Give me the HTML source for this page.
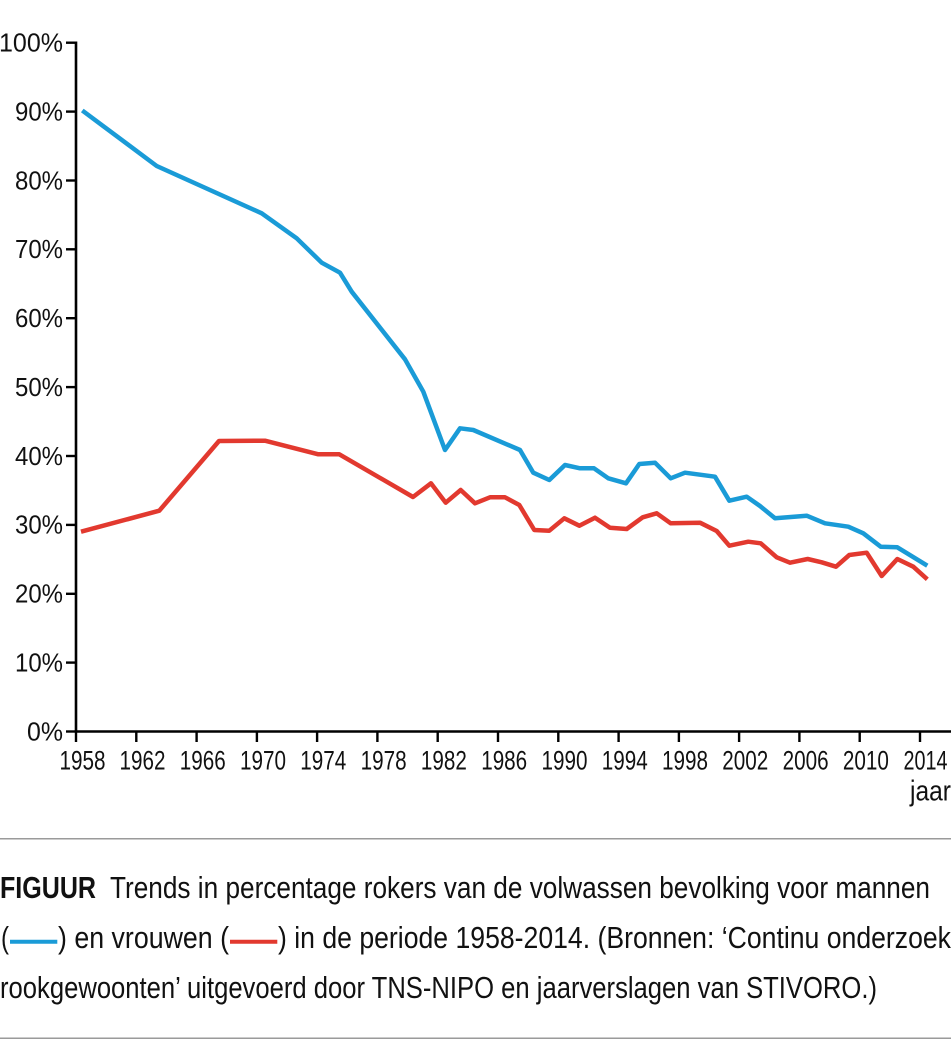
<!DOCTYPE html>
<html>
<head>
<meta charset="utf-8">
<style>
  html, body { margin: 0; padding: 0; background: #ffffff; }
  body { width: 951px; height: 1050px; overflow: hidden; }
  svg { display: block; }
  text { font-family: "Liberation Sans", "DejaVu Sans", sans-serif; fill: #111; }
</style>
</head>
<body>
<svg width="951" height="1050" viewBox="0 0 951 1050" xmlns="http://www.w3.org/2000/svg">
  <rect x="0" y="0" width="951" height="1050" fill="#ffffff"/>

  <!-- Axes -->
  <line x1="76" y1="41.5" x2="76" y2="732.5" stroke="#000" stroke-width="2.6"/>
  <line x1="74.7" y1="731.5" x2="951" y2="731.5" stroke="#000" stroke-width="2.6"/>

  <!-- Y ticks -->
  <g stroke="#000" stroke-width="2.4">
    <line x1="66" y1="42.7" x2="76" y2="42.7"/>
    <line x1="66" y1="111.6" x2="76" y2="111.6"/>
    <line x1="66" y1="180.5" x2="76" y2="180.5"/>
    <line x1="66" y1="249.3" x2="76" y2="249.3"/>
    <line x1="66" y1="318.2" x2="76" y2="318.2"/>
    <line x1="66" y1="387.1" x2="76" y2="387.1"/>
    <line x1="66" y1="456.0" x2="76" y2="456.0"/>
    <line x1="66" y1="524.9" x2="76" y2="524.9"/>
    <line x1="66" y1="593.8" x2="76" y2="593.8"/>
    <line x1="66" y1="662.6" x2="76" y2="662.6"/>
    <line x1="66" y1="731.5" x2="76" y2="731.5"/>
  </g>

  <!-- Y labels -->
  <g font-size="26" text-anchor="end">
    <text x="63" y="51.5" textLength="64" lengthAdjust="spacingAndGlyphs">100%</text>
    <text x="63" y="120.4" textLength="48" lengthAdjust="spacingAndGlyphs">90%</text>
    <text x="63" y="189.3" textLength="48" lengthAdjust="spacingAndGlyphs">80%</text>
    <text x="63" y="258.1" textLength="48" lengthAdjust="spacingAndGlyphs">70%</text>
    <text x="63" y="327.0" textLength="48" lengthAdjust="spacingAndGlyphs">60%</text>
    <text x="63" y="395.9" textLength="48" lengthAdjust="spacingAndGlyphs">50%</text>
    <text x="63" y="464.8" textLength="48" lengthAdjust="spacingAndGlyphs">40%</text>
    <text x="63" y="533.7" textLength="48" lengthAdjust="spacingAndGlyphs">30%</text>
    <text x="63" y="602.6" textLength="48" lengthAdjust="spacingAndGlyphs">20%</text>
    <text x="63" y="671.4" textLength="48" lengthAdjust="spacingAndGlyphs">10%</text>
    <text x="63" y="740.3" textLength="36" lengthAdjust="spacingAndGlyphs">0%</text>
  </g>

  <!-- X ticks -->
  <g stroke="#000" stroke-width="2.4">
    <line x1="76" y1="731.5" x2="76" y2="742"/>
    <line x1="136.3" y1="731.5" x2="136.3" y2="742"/>
    <line x1="196.6" y1="731.5" x2="196.6" y2="742"/>
    <line x1="256.9" y1="731.5" x2="256.9" y2="742"/>
    <line x1="317.1" y1="731.5" x2="317.1" y2="742"/>
    <line x1="377.4" y1="731.5" x2="377.4" y2="742"/>
    <line x1="437.7" y1="731.5" x2="437.7" y2="742"/>
    <line x1="498" y1="731.5" x2="498" y2="742"/>
    <line x1="558.3" y1="731.5" x2="558.3" y2="742"/>
    <line x1="618.6" y1="731.5" x2="618.6" y2="742"/>
    <line x1="678.9" y1="731.5" x2="678.9" y2="742"/>
    <line x1="739.1" y1="731.5" x2="739.1" y2="742"/>
    <line x1="799.4" y1="731.5" x2="799.4" y2="742"/>
    <line x1="859.7" y1="731.5" x2="859.7" y2="742"/>
    <line x1="920" y1="731.5" x2="920" y2="742"/>
  </g>

  <!-- X labels -->
  <g font-size="27" text-anchor="middle">
    <text x="82.5" y="769.5" textLength="46" lengthAdjust="spacingAndGlyphs">1958</text>
    <text x="142.5" y="769.5" textLength="46" lengthAdjust="spacingAndGlyphs">1962</text>
    <text x="202.8" y="769.5" textLength="46" lengthAdjust="spacingAndGlyphs">1966</text>
    <text x="263" y="769.5" textLength="46" lengthAdjust="spacingAndGlyphs">1970</text>
    <text x="323.3" y="769.5" textLength="46" lengthAdjust="spacingAndGlyphs">1974</text>
    <text x="383.6" y="769.5" textLength="46" lengthAdjust="spacingAndGlyphs">1978</text>
    <text x="443.9" y="769.5" textLength="46" lengthAdjust="spacingAndGlyphs">1982</text>
    <text x="504.2" y="769.5" textLength="46" lengthAdjust="spacingAndGlyphs">1986</text>
    <text x="564.5" y="769.5" textLength="46" lengthAdjust="spacingAndGlyphs">1990</text>
    <text x="624.8" y="769.5" textLength="46" lengthAdjust="spacingAndGlyphs">1994</text>
    <text x="685" y="769.5" textLength="46" lengthAdjust="spacingAndGlyphs">1998</text>
    <text x="745.3" y="769.5" textLength="46" lengthAdjust="spacingAndGlyphs">2002</text>
    <text x="805.6" y="769.5" textLength="46" lengthAdjust="spacingAndGlyphs">2006</text>
    <text x="865.9" y="769.5" textLength="46" lengthAdjust="spacingAndGlyphs">2010</text>
    <text x="925.5" y="769.5" textLength="44" lengthAdjust="spacingAndGlyphs">2014</text>
  </g>
  <text x="910" y="800.5" font-size="29" textLength="41" lengthAdjust="spacingAndGlyphs">jaar</text>

  <!-- Blue series (mannen) -->
  <polyline fill="none" stroke="#1a9bd7" stroke-width="4.5" stroke-linejoin="round" stroke-linecap="butt"
    points="82.3,110.5 156.7,166 261.7,213.3 296.7,238.3 321.7,262.7 340,272.7 351.7,291.7 405,359.3 423.3,391.7 445,450 460,428.3 473.3,430 520,450 533.3,472.7 549.3,480 565,465 580,468.3 594,468.3 608.3,478.3 626,483.3 639.3,464 655,462.7 670.7,478.3 685,472.7 715,476.7 729.3,500.7 746.7,496.7 760,506 775,518.3 806.7,515.7 825,523.3 848.3,526.7 863.3,533.3 880.7,546.7 897.3,547.3 927.3,565.7"/>

  <!-- Red series (vrouwen) -->
  <polyline fill="none" stroke="#e2392f" stroke-width="4.5" stroke-linejoin="round" stroke-linecap="butt"
    points="81,531.7 159.3,510.7 219,441 265,440.7 318.3,454.3 339.3,454.3 413,497 431,483.3 445.7,502.7 460.7,490 475,503.3 490,497.3 505,497.3 519.3,505 534.3,530 549.3,530.7 564.3,518.3 579.3,525.7 595,517.7 610,527.7 626.7,529 642.7,517.3 656.7,513.3 670.7,523.3 700,522.7 716.7,531 729.3,545.7 748.3,541.7 760.7,543.3 776.7,557.3 790,562.7 807.7,559 821.7,562.3 836,566.7 849.3,555 866.7,552.7 881.7,576 897.3,559 913.3,566.7 927.3,579.3"/>

  <!-- Separators -->
  <line x1="0" y1="838.7" x2="951" y2="838.7" stroke="#9a9a9a" stroke-width="1.5"/>
  <line x1="0" y1="1038.3" x2="951" y2="1038.3" stroke="#9a9a9a" stroke-width="1.5"/>

  <!-- Caption -->
  <g font-size="31">
    <text x="0" y="898" font-weight="bold" textLength="96" lengthAdjust="spacingAndGlyphs">FIGUUR</text>
    <text x="110" y="898" textLength="820" lengthAdjust="spacingAndGlyphs">Trends in percentage rokers van de volwassen bevolking voor mannen</text>

    <text x="1" y="948" textLength="8" lengthAdjust="spacingAndGlyphs">(</text>
    <line x1="10" y1="941.7" x2="57.3" y2="941.7" stroke="#1a9bd7" stroke-width="4"/>
    <text x="58" y="948" textLength="171" lengthAdjust="spacingAndGlyphs">) en vrouwen (</text>
    <line x1="230" y1="941.7" x2="277.3" y2="941.7" stroke="#e2392f" stroke-width="4"/>
    <text x="278" y="948" textLength="673" lengthAdjust="spacingAndGlyphs">) in de periode 1958-2014. (Bronnen: ‘Continu onderzoek</text>

    <text x="0" y="998" textLength="877" lengthAdjust="spacingAndGlyphs">rookgewoonten’ uitgevoerd door TNS-NIPO en jaarverslagen van STIVORO.)</text>
  </g>
</svg>
</body>
</html>
